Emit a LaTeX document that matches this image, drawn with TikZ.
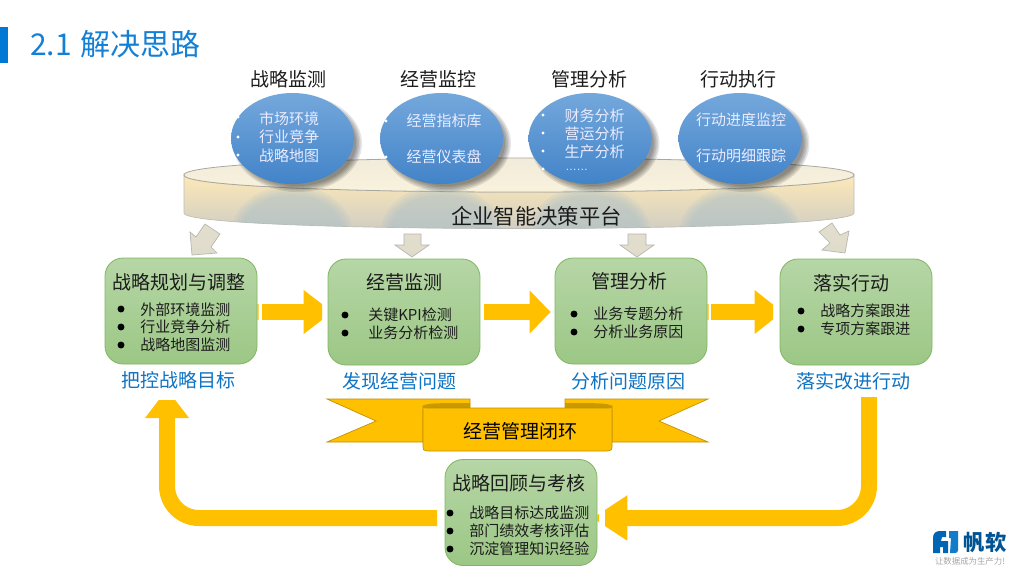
\documentclass[tikz,border=0pt]{standalone}
\usepackage{fontspec}
\setmainfont{Noto Sans CJK SC}
\newfontfamily\dotsfont{Liberation Sans}
\usetikzlibrary{arrows.meta,shapes.geometric,calc}
\definecolor{capblue}{HTML}{0F74C4}
\definecolor{titleblue}{HTML}{1380D6}
\definecolor{barblue}{HTML}{0078D4}
\definecolor{gold}{HTML}{FFC000}
\definecolor{golddark}{HTML}{BF9000}
\definecolor{foldgold}{HTML}{C99A00}
\definecolor{boxedge}{HTML}{7FB661}
\definecolor{boxtop}{HTML}{B6D6A6}
\definecolor{boxbot}{HTML}{9CC785}
\definecolor{elltop}{HTML}{74A8DC}
\definecolor{ellmid}{HTML}{5A9ADB}
\definecolor{ellbot}{HTML}{4283C8}
\definecolor{ink}{HTML}{1C1C1C}
\definecolor{datop}{HTML}{E2DDCE}
\definecolor{damid}{HTML}{FBEBC2}
\definecolor{dabot}{HTML}{E0DCCB}
\definecolor{daedge}{HTML}{B5B5AD}
\definecolor{sidetop}{HTML}{FDE9B8}
\definecolor{sidemid}{HTML}{F8E6B8}
\definecolor{sidebot}{HTML}{CDCBC3}
\definecolor{sideedge}{HTML}{BDBDB5}
\definecolor{plattop}{HTML}{EFEADB}
\definecolor{platbot}{HTML}{FBF3DC}
\definecolor{platedge}{HTML}{A8A8A0}
\definecolor{refltop}{HTML}{A8BFC8}
\newcommand{\fs}[1]{\fontsize{#1pt}{#1pt}\selectfont}
\tikzset{
  x=0.75pt,y=-0.75pt,
  hdr/.style={font=\fs{14.25},text=ink,inner sep=0pt},
  ellnode/.style={ellipse,minimum width=92.25pt,minimum height=68.25pt,inner sep=0pt,
    top color=elltop,middle color=ellmid,bottom color=ellbot,draw=none},
  elltext/.style={font=\fs{11.25},text=white!92!blue,inner sep=0pt},
  greenbox/.style={rectangle,rounded corners=13.5pt,minimum width=114pt,minimum height=79.5pt,inner sep=0pt,
    top color=boxtop,bottom color=boxbot,draw=boxedge,line width=0.6pt},
  boxtitle/.style={font=\fs{14.25},text=ink,inner sep=0pt},
  boxtext/.style={font=\fs{11.25},text=ink,inner sep=0pt,anchor=west},
  captext/.style={font=\fs{14.25},text=capblue,inner sep=0pt},
  bigarrow/.style={draw=gold,fill=none,line width=12pt},
  downarrow/.style={top color=datop,middle color=damid,bottom color=dabot,draw=daedge,line width=0.5pt},
}
\newcommand{\softshadow}[2]{%
  \foreach \g in {-3,-1.5,0,1.5,3}{
    \fill[black,opacity=0.1] ($(#1,#2)+(5,5)$) circle[x radius={46.125pt+\g*0.75pt},y radius={34.125pt+\g*0.75pt}];
  }}
\begin{document}
\begin{tikzpicture}
\useasboundingbox (0,0) rectangle (1024,576);
\fill[white] (0,0) rectangle (1024,576);

% title
\fill[barblue] (0,27) rectangle (8,63);
\node[font=\fs{22.5},text=titleblue,inner sep=0pt,anchor=west] (title) at (30,44) {2.1\hspace{1.5pt} 解决思路};

% platform side
\path[top color=sidetop,middle color=sidemid,bottom color=sidebot,draw=sideedge,line width=0.5pt]
  (184,175) -- (184,213) .. controls (184,233.7) and (854,233.7) .. (854,213) -- (854,175)
  .. controls (854,197.7) and (184,197.7) .. (184,175) -- cycle;
% platform top
\path[top color=plattop,bottom color=platbot,draw=platedge,line width=0.6pt]
  (184,175) .. controls (184,152.3) and (854,152.3) .. (854,175)
  .. controls (854,197.7) and (184,197.7) .. (184,175) -- cycle;
% reflections of the ellipses on the platform
\begin{scope}
  \clip (184,175) -- (184,213) .. controls (184,233.7) and (854,233.7) .. (854,213) -- (854,175) -- cycle;
  \foreach \cx in {292,441,590,740}{
    \foreach \g in {0,3,6,9}{
      \fill[refltop,opacity=0.17] (\cx,232) circle[x radius={45pt-\g*0.75pt},y radius={35pt-\g*0.75pt}];
    }
  }
\end{scope}

% headers
\node[hdr] (h1) at (288,79) {战略监测};
\node[hdr] (h2) at (438,79) {经营监控};
\node[hdr] (h3) at (589,79) {管理分析};
\node[hdr] (h4) at (738,79) {行动执行};

% ellipses
\softshadow{292.5}{138.5}
\softshadow{441.5}{138.5}
\softshadow{590}{138.5}
\softshadow{740}{138.5}
\node[ellnode] (e1) at (292.5,138.5) {};
\node[ellnode] (e2) at (441.5,138.5) {};
\node[ellnode] (e3) at (590,138.5) {};
\node[ellnode] (e4) at (740,138.5) {};

\node[elltext] (e1a) at (289,118.5) {市场环境};
\node[elltext] (e1b) at (289,136.5) {行业竞争};
\node[elltext] (e1c) at (289,155.5) {战略地图};
\fill[white] (238,117) circle[radius=1.3pt] (238,137) circle[radius=1.3pt] (238,155) circle[radius=1.3pt];
\node[elltext] (e2a) at (444,121) {经营指标库};
\node[elltext] (e2b) at (444,157) {经营仪表盘};
\fill[white] (386,121) circle[radius=1.3pt] (386,157) circle[radius=1.3pt];
\node[elltext] (e3a) at (594.5,115.5) {财务分析};
\node[elltext] (e3b) at (594.5,133.5) {营运分析};
\node[elltext] (e3c) at (594.5,151.5) {生产分析};
\node[elltext,anchor=west,font=\dotsfont\fs{8.6}] (e3d) at (565,170) {……};
\fill[white] (543,115) circle[radius=1.3pt] (543,133) circle[radius=1.3pt] (543,151) circle[radius=1.3pt] (543,169) circle[radius=1.3pt];
\node[elltext] (e4a) at (741,120) {行动进度监控};
\node[elltext] (e4b) at (741,156) {行动明细跟踪};

\node[font=\fs{16},text=ink,inner sep=0pt] (plat) at (536.5,216) {企业智能决策平台};

% down arrows
\path[downarrow] (205,224) -- (220,234) -- (211,247) -- (217,253) -- (192,255) -- (190,232) -- (196,237) -- cycle;
\path[downarrow] (404,234) -- (421,234) -- (421,245) -- (429,245) -- (412,257) -- (395,245) -- (404,245) -- cycle;
\path[downarrow] (628,234) -- (646,234) -- (646,245) -- (654,245) -- (637,257) -- (620,245) -- (628,245) -- cycle;
\path[downarrow] (819,232) -- (832,223) -- (840,235) -- (849,231) -- (845,253) -- (822,250) -- (830,243) -- cycle;

% boxes
\node[greenbox] (b1) at (181,311) {};
\node[greenbox] (b2) at (404,312) {};
\node[greenbox] (b3) at (631,311) {};
\node[greenbox] (b4) at (856,312) {};
\node[greenbox] (b5) at (521,512.5) {};

\node[boxtitle] (t1) at (179,282) {战略规划与调整};
\node[boxtext] (t1a) at (140,309.5) {外部环境监测};
\node[boxtext] (t1b) at (140,327) {行业竞争分析};
\node[boxtext] (t1c) at (140,345) {战略地图监测};
\fill[black] (121,309) circle[radius=2.6pt] (121,327) circle[radius=2.6pt] (121,345) circle[radius=2.6pt];

\node[boxtitle] (t2) at (404,282) {经营监测};
\node[boxtext] (t2a) at (368,315) {关键KPI检测};
\node[boxtext] (t2b) at (368,333) {业务分析检测};
\fill[black] (345,315) circle[radius=2.6pt] (345,333) circle[radius=2.6pt];

\node[boxtitle] (t3) at (629,281) {管理分析};
\node[boxtext] (t3a) at (593,314) {业务专题分析};
\node[boxtext] (t3b) at (593,332) {分析业务原因};
\fill[black] (574,314) circle[radius=2.6pt] (574,332) circle[radius=2.6pt];

\node[boxtitle] (t4) at (851,283) {落实行动};
\node[boxtext] (t4a) at (820,311) {战略方案跟进};
\node[boxtext] (t4b) at (820,329) {专项方案跟进};
\fill[black] (801,311) circle[radius=2.6pt] (801,329) circle[radius=2.6pt];

\node[boxtitle] (t5) at (519,483) {战略回顾与考核};
\node[boxtext] (t5a) at (469,513) {战略目标达成监测};
\node[boxtext] (t5b) at (469,531) {部门绩效考核评估};
\node[boxtext] (t5c) at (469,549) {沉淀管理知识经验};
\fill[black] (450,513) circle[radius=2.6pt] (450,531) circle[radius=2.6pt] (450,549) circle[radius=2.6pt];

% captions
\node[captext] (c1) at (178.5,380) {把控战略目标};
\node[captext] (c2) at (399.5,381) {发现经营问题};
\node[captext] (c3) at (628.5,381) {分析问题原因};
\node[captext] (c4) at (853.5,381) {落实改进行动};

% horizontal arrows
\begin{scope}
  \clip (257,280) rectangle (258.5,340) (262,280) rectangle (322,340);
  \draw[bigarrow,-{Triangle[length=21.75pt,width=31.5pt]},shorten >=-3.75pt] (b1.east |- b2.west) -- (b2.west);
\end{scope}
\begin{scope}
  \clip (484,280) rectangle (552,340);
  \draw[bigarrow,-{Triangle[length=15.75pt,width=31.5pt]},shorten >=3pt] (b2.east) -- (b3.west |- b2.east);
\end{scope}
\begin{scope}
  \clip (707,280) rectangle (708.5,340) (711,280) rectangle (773,340);
  \draw[bigarrow,-{Triangle[length=21pt,width=31.5pt]},shorten >=-2.25pt] (b3.east |- b4.west) -- (b4.west);
\end{scope}

% curved arrows
\coordinate (r1) at (869,397);
\coordinate (r2) at (592,518);
\coordinate (r3) at (b5.east |- r2);
\begin{scope}
  \clip (597,505) rectangle (599,531) (605,480) rectangle (900,540) (840,390) rectangle (900,540);
  \draw[bigarrow,rounded corners=24pt,-{Triangle[length=26.25pt,width=32.25pt]},shorten >=-3.75pt]
    (r1) |- (r3);
\end{scope}
\coordinate (l1) at (b5.west |- r2);
\coordinate (l2) at (167,389);
\begin{scope}
  \clip (140,400) rectangle (437,540);
  \draw[bigarrow,rounded corners=24pt,-{Triangle[length=21.75pt,width=31.5pt]}]
    (l1) -| (l2);
\end{scope}

% ribbon
\path[fill=gold,draw=golddark,line width=0.5pt]
  (327,399) -- (470,399) -- (470,410) -- (423,410) -- (423,442) -- (327,442) -- (376,421) -- cycle;
\path[fill=gold,draw=golddark,line width=0.5pt]
  (708,399) -- (565,399) -- (565,410) -- (612,410) -- (612,442) -- (708,442) -- (659,421) -- cycle;
\path[fill=foldgold]
  (423,406) .. controls (426,403) and (440,403) .. (470,403) -- (470,408) -- (428,408) .. controls (425,408) .. (423,406) -- cycle;
\path[fill=foldgold]
  (612,406) .. controls (609,403) and (595,403) .. (565,403) -- (565,408) -- (607,408) .. controls (610,408) .. (612,406) -- cycle;
\path[fill=gold,draw=golddark,line width=0.5pt]
  (423,406) .. controls (424,408) .. (428,408) -- (607,408) .. controls (611,408) .. (612,406) -- (612,447)
  .. controls (612,450) .. (607,451) -- (428,451) .. controls (423,450) .. (423,447) -- cycle;
\node[font=\fs{14.25},text=black,inner sep=0pt] (rib) at (520.5,431) {经营管理闭环};

% logo
\path[fill=barblue!85!black] (933,553) -- (933,538) .. controls (933,533) and (936,531) .. (940,531) -- (946,531) -- (946,537) -- (942,537) -- (941,541) -- (948,541) -- (948,553) -- (943,553) -- (943,547) -- (940,547) -- (940,553) -- cycle;
\path[fill=cyan!60!blue] (949,531) -- (958,531) -- (958,550) .. controls (958,552) and (957,553) .. (955,553) -- (950,553) -- (951,538) -- (949,538) -- cycle;
\node[font=\fs{16}\bfseries,text=barblue!70!black,inner sep=0pt] (lg) at (985,543) {帆软};
\node[font=\fs{6.3},text=black!35,inner sep=0pt] (lgt) at (970,561) {让数据成为生产力!};
\end{tikzpicture}
\end{document}
